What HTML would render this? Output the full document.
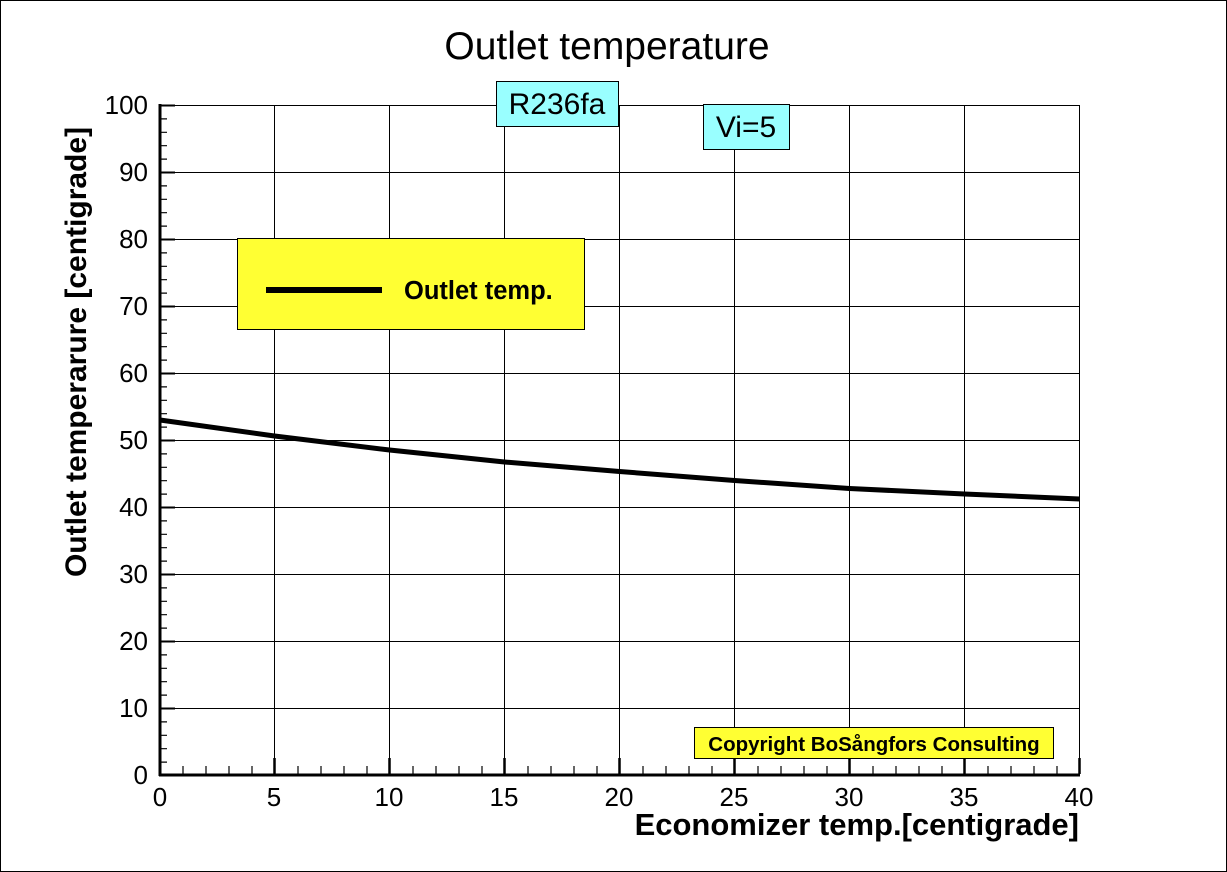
<!DOCTYPE html>
<html><head><style>body{margin:0;background:#fff}svg{display:block}text{font-family:"Liberation Sans",Arial,sans-serif}</style></head><body>
<svg width="1227" height="872" xmlns="http://www.w3.org/2000/svg">
<rect x="0.5" y="0.5" width="1226" height="871" fill="#fff" stroke="#000"/>
<text x="607" y="59" font-size="39" text-anchor="middle">Outlet temperature</text>
<g stroke="#000" stroke-width="1">
<line x1="274.5" y1="105" x2="274.5" y2="774"/><line x1="389.5" y1="105" x2="389.5" y2="774"/><line x1="504.5" y1="105" x2="504.5" y2="774"/><line x1="619.5" y1="105" x2="619.5" y2="774"/><line x1="734.5" y1="105" x2="734.5" y2="774"/><line x1="849.5" y1="105" x2="849.5" y2="774"/><line x1="964.5" y1="105" x2="964.5" y2="774"/><line x1="1079.5" y1="105" x2="1079.5" y2="774"/>
<line x1="160" y1="105.5" x2="1079" y2="105.5"/><line x1="160" y1="172.5" x2="1079" y2="172.5"/><line x1="160" y1="239.5" x2="1079" y2="239.5"/><line x1="160" y1="306.5" x2="1079" y2="306.5"/><line x1="160" y1="373.5" x2="1079" y2="373.5"/><line x1="160" y1="440.5" x2="1079" y2="440.5"/><line x1="160" y1="507.5" x2="1079" y2="507.5"/><line x1="160" y1="574.5" x2="1079" y2="574.5"/><line x1="160" y1="641.5" x2="1079" y2="641.5"/><line x1="160" y1="708.5" x2="1079" y2="708.5"/>
</g>
<path stroke="#000" stroke-width="1.2" d="
M160 118.9h7M160 132.3h7M160 145.7h7M160 159.1h7
M160 185.9h7M160 199.3h7M160 212.7h7M160 226.1h7
M160 252.9h7M160 266.3h7M160 279.7h7M160 293.1h7
M160 319.9h7M160 333.3h7M160 346.7h7M160 360.1h7
M160 386.9h7M160 400.3h7M160 413.7h7M160 427.1h7
M160 453.9h7M160 467.3h7M160 480.7h7M160 494.1h7
M160 520.9h7M160 534.3h7M160 547.7h7M160 561.1h7
M160 587.9h7M160 601.3h7M160 614.7h7M160 628.1h7
M160 654.9h7M160 668.3h7M160 681.7h7M160 695.1h7
M160 721.9h7M160 735.3h7M160 748.7h7M160 762.1h7"/>
<path stroke="#000" stroke-width="2" d="M160 105.5h15M160 172.5h15M160 239.5h15M160 306.5h15M160 373.5h15M160 440.5h15M160 507.5h15M160 574.5h15M160 641.5h15M160 708.5h15"/>
<path stroke="#000" stroke-width="1.2" d="
M183 774v-8M206 774v-8M229 774v-8M252 774v-8
M298 774v-8M321 774v-8M344 774v-8M367 774v-8
M413 774v-8M436 774v-8M459 774v-8M482 774v-8
M528 774v-8M551 774v-8M574 774v-8M597 774v-8
M643 774v-8M666 774v-8M689 774v-8M712 774v-8
M758 774v-8M781 774v-8M804 774v-8M827 774v-8
M873 774v-8M896 774v-8M919 774v-8M942 774v-8
M988 774v-8M1011 774v-8M1034 774v-8M1057 774v-8"/>
<path stroke="#000" stroke-width="2.5" d="M274.5 774v-16M389.5 774v-16M504.5 774v-16M619.5 774v-16M734.5 774v-16M849.5 774v-16M964.5 774v-16M1079.5 774v-16"/>
<line x1="160" y1="104" x2="160" y2="776" stroke="#000" stroke-width="3"/>
<line x1="159" y1="775" x2="1080" y2="775" stroke="#000" stroke-width="3"/>
<g font-size="26" text-anchor="end">
<text x="148" y="114">100</text><text x="148" y="181">90</text><text x="148" y="248">80</text><text x="148" y="315">70</text><text x="148" y="382">60</text><text x="148" y="449">50</text><text x="148" y="516">40</text><text x="148" y="583">30</text><text x="148" y="650">20</text><text x="148" y="717">10</text><text x="148" y="784">0</text>
</g>
<g font-size="26" text-anchor="middle">
<text x="160" y="806">0</text><text x="274" y="806">5</text><text x="389" y="806">10</text><text x="504" y="806">15</text><text x="619" y="806">20</text><text x="734" y="806">25</text><text x="849" y="806">30</text><text x="964" y="806">35</text><text x="1079" y="806">40</text>
</g>
<text x="1079" y="835" font-size="31" font-weight="bold" text-anchor="end">Economizer temp.[centigrade]</text>
<text transform="translate(86,352) rotate(-90)" font-size="30" font-weight="bold" text-anchor="middle">Outlet temperarure [centigrade]</text>
<polyline fill="none" stroke="#000" stroke-width="5" points="160,420 274.5,436 389.5,450 504.5,462 619.5,471.5 734.5,480.5 849.5,488.5 964.5,494 1079.5,499"/>
<rect x="496.5" y="81.5" width="122" height="45" fill="#99ffff" stroke="#000"/>
<text x="557" y="114" font-size="30" text-anchor="middle">R236fa</text>
<rect x="703.5" y="104.5" width="86" height="45" fill="#99ffff" stroke="#000"/>
<text x="746" y="137" font-size="30" text-anchor="middle">Vi=5</text>
<rect x="237.5" y="238.5" width="347" height="91" fill="#ffff33" stroke="#000"/>
<line x1="266" y1="290" x2="382" y2="290" stroke="#000" stroke-width="6"/>
<text x="404" y="299" font-size="25.5" font-weight="bold">Outlet temp.</text>
<rect x="694.5" y="727.5" width="359" height="31" fill="#ffff33" stroke="#000"/>
<text x="874" y="751" font-size="20.5" font-weight="bold" text-anchor="middle">Copyright BoSångfors Consulting</text>
</svg>
</body></html>
